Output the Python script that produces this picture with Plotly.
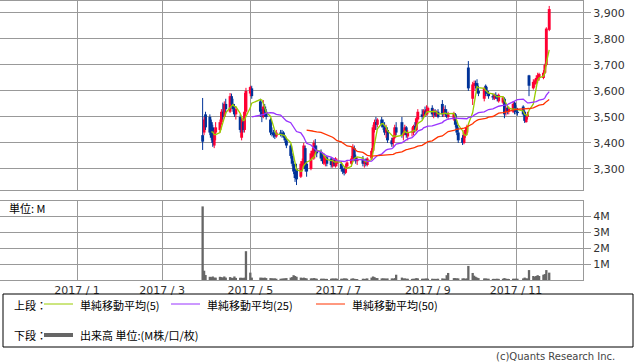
import plotly.graph_objects as go
import pandas as pd

# ---------------- data ----------------
mar = [29, 30, 31]
apr = [3, 4, 5, 6, 7, 10, 11, 12, 13, 14, 17, 18, 19, 20, 21, 24, 25, 26, 27, 28]
may = [1, 2, 8, 9, 10, 11, 12, 15, 16, 17, 18, 19, 22, 23, 24, 25, 26, 29, 30, 31]
jun = [1, 2, 5, 6, 7, 8, 9, 12, 13, 14, 15, 16, 19, 20, 21, 22, 23, 26, 27, 28, 29, 30]
jul = [3, 4, 5, 6, 7, 10, 11, 12, 13, 14, 18, 19, 20, 21, 24, 25, 26, 27, 28, 31]
aug = [1, 2, 3, 4, 7, 8, 9, 10, 14, 15, 16, 17, 18, 21, 22, 23, 24, 25, 28, 29, 30, 31]
sep = [1, 4, 5, 6, 7, 8, 11, 12, 13, 14, 15, 19, 20, 21, 22, 25, 26, 27, 28, 29]
octo = [2, 3, 4, 5, 6, 10, 11, 12, 13, 16, 17, 18, 19, 20, 23, 24, 25, 26, 27, 30, 31]
nov = [1, 2, 6, 7, 8, 9, 10, 13, 14, 15, 16, 17, 20, 21, 22, 24]

dates = ([f"2017-03-{d:02d}" for d in mar] + [f"2017-04-{d:02d}" for d in apr] +
         [f"2017-05-{d:02d}" for d in may] + [f"2017-06-{d:02d}" for d in jun] +
         [f"2017-07-{d:02d}" for d in jul] + [f"2017-08-{d:02d}" for d in aug] +
         [f"2017-09-{d:02d}" for d in sep] + [f"2017-10-{d:02d}" for d in octo] +
         [f"2017-11-{d:02d}" for d in nov])

opens = [
    3430, 3440, 3510,
    3500, 3480, 3460, 3390, 3440, 3450, 3480, 3520, 3500, 3550, 3520, 3580, 3550, 3530, 3510, 3500, 3420, 3480, 3450, 3520,
    3590, 3610, 3560, 3520, 3500, 3540, 3520, 3490, 3440, 3440, 3430, 3425, 3440, 3435, 3440, 3425, 3410, 3390, 3350, 3320,
    3290, 3300, 3270, 3310, 3310, 3380, 3320, 3300, 3350, 3340, 3390, 3370, 3365, 3350, 3320, 3330, 3345, 3340, 3310, 3335, 3310, 3320,
    3320, 3300, 3295, 3285, 3310, 3320, 3330, 3380, 3345, 3330, 3340, 3320, 3335, 3315, 3340, 3370, 3450, 3480, 3470, 3490,
    3470, 3460, 3440, 3450, 3410, 3400, 3420, 3460, 3480, 3430, 3440, 3460, 3425, 3440, 3440, 3465, 3450, 3490, 3510, 3500, 3520, 3510,
    3520, 3535, 3510, 3520, 3505, 3520, 3550, 3510, 3530, 3515, 3500, 3490, 3510, 3470, 3440, 3420, 3400, 3430, 3440, 3690,
    3570, 3620, 3630, 3630, 3600, 3570, 3620, 3600, 3590, 3580, 3570, 3585, 3575, 3560, 3555, 3570, 3520, 3535, 3520, 3520, 3555,
    3530, 3520, 3540, 3520, 3480, 3500, 3660, 3610, 3625, 3630, 3640, 3650, 3650, 3670, 3700, 3835,
]
highs = [
    3573, 3500, 3520,
    3510, 3490, 3470, 3450, 3480, 3490, 3530, 3555, 3560, 3570, 3592, 3590, 3570, 3550, 3540, 3510, 3500, 3490, 3592, 3612,
    3620, 3620, 3570, 3530, 3565, 3550, 3530, 3495, 3460, 3450, 3445, 3450, 3450, 3450, 3445, 3430, 3420, 3395, 3360, 3330,
    3300, 3320, 3330, 3340, 3400, 3390, 3330, 3370, 3380, 3410, 3415, 3390, 3375, 3360, 3360, 3350, 3350, 3345, 3340, 3340, 3345, 3340,
    3330, 3310, 3305, 3320, 3330, 3350, 3395, 3390, 3355, 3345, 3350, 3335, 3340, 3345, 3380, 3470, 3490, 3500, 3495, 3500,
    3490, 3480, 3470, 3460, 3420, 3430, 3470, 3480, 3500, 3450, 3470, 3465, 3450, 3460, 3470, 3480, 3500, 3530, 3530, 3530, 3540, 3545,
    3540, 3545, 3530, 3530, 3525, 3530, 3565, 3540, 3545, 3530, 3520, 3520, 3515, 3480, 3460, 3430, 3450, 3460, 3470, 3715,
    3635, 3640, 3640, 3645, 3620, 3615, 3625, 3615, 3600, 3590, 3590, 3595, 3585, 3590, 3580, 3575, 3540, 3545, 3540, 3560, 3560,
    3545, 3535, 3545, 3525, 3505, 3520, 3662, 3645, 3645, 3660, 3670, 3670, 3680, 3705, 3845, 3927,
]
lows = [
    3373, 3430, 3450,
    3430, 3410, 3385, 3380, 3410, 3440, 3470, 3490, 3495, 3510, 3515, 3540, 3520, 3500, 3490, 3440, 3410, 3440, 3440, 3510,
    3580, 3570, 3500, 3480, 3495, 3500, 3490, 3430, 3425, 3420, 3415, 3420, 3425, 3420, 3420, 3400, 3380, 3340, 3310, 3280,
    3250, 3238, 3265, 3300, 3305, 3290, 3270, 3295, 3340, 3335, 3360, 3345, 3330, 3320, 3315, 3310, 3310, 3305, 3305, 3310, 3305, 3310,
    3290, 3280, 3275, 3280, 3300, 3310, 3325, 3330, 3320, 3315, 3310, 3305, 3310, 3310, 3335, 3365, 3440, 3450, 3460, 3460,
    3450, 3430, 3420, 3400, 3385, 3385, 3415, 3430, 3420, 3410, 3430, 3420, 3410, 3425, 3430, 3440, 3445, 3480, 3490, 3495, 3500, 3505,
    3510, 3500, 3495, 3500, 3500, 3495, 3500, 3500, 3505, 3495, 3490, 3485, 3460, 3430, 3400, 3392, 3395, 3420, 3430, 3600,
    3546, 3600, 3610, 3590, 3580, 3560, 3580, 3580, 3570, 3565, 3565, 3570, 3560, 3555, 3550, 3495, 3505, 3510, 3510, 3515, 3510,
    3510, 3505, 3505, 3477, 3478, 3490, 3580, 3605, 3615, 3625, 3630, 3640, 3645, 3665, 3695, 3830,
]
closes = [
    3405, 3490, 3460,
    3440, 3420, 3400, 3440, 3460, 3480, 3520, 3500, 3550, 3530, 3580, 3550, 3530, 3510, 3530, 3450, 3490, 3450, 3520, 3600,
    3615, 3580, 3520, 3510, 3540, 3520, 3500, 3440, 3435, 3430, 3425, 3440, 3435, 3430, 3425, 3410, 3390, 3350, 3320, 3290,
    3265, 3260, 3320, 3330, 3390, 3300, 3290, 3360, 3370, 3400, 3370, 3360, 3340, 3330, 3350, 3345, 3320, 3315, 3335, 3320, 3340, 3330,
    3300, 3290, 3285, 3310, 3325, 3340, 3385, 3340, 3330, 3335, 3320, 3330, 3320, 3340, 3370, 3460, 3480, 3470, 3490, 3470,
    3460, 3440, 3455, 3410, 3395, 3420, 3460, 3440, 3430, 3440, 3460, 3430, 3440, 3445, 3465, 3450, 3495, 3520, 3500, 3525, 3510, 3530,
    3535, 3510, 3525, 3505, 3520, 3500, 3510, 3530, 3515, 3500, 3510, 3515, 3470, 3440, 3410, 3400, 3440, 3450, 3460, 3610,
    3625, 3630, 3620, 3600, 3590, 3610, 3590, 3590, 3580, 3575, 3585, 3575, 3570, 3585, 3575, 3510, 3530, 3520, 3535, 3550, 3520,
    3520, 3515, 3510, 3485, 3500, 3510, 3620, 3635, 3640, 3650, 3660, 3665, 3670, 3700, 3840, 3915,
]
volumes_m = [
    4.60, 0.58, 0.31,
    0.20, 0.18, 0.22, 0.15, 0.15, 0.20, 0.18, 0.15, 0.22, 0.15, 0.18, 0.14, 0.12, 0.22, 0.13, 0.14, 0.14, 0.12, 0.15, 1.80,
    0.46, 0.15, 0.15, 0.14, 0.13, 0.15, 0.12, 0.12, 0.10, 0.10, 0.10, 0.08, 0.08, 0.08, 0.10, 0.10, 0.12, 0.15, 0.18, 0.30,
    0.25, 0.20, 0.15, 0.12, 0.15, 0.12, 0.10, 0.10, 0.10, 0.12, 0.10, 0.08, 0.08, 0.08, 0.08, 0.07, 0.07, 0.08, 0.10, 0.08, 0.10, 0.08,
    0.08, 0.08, 0.10, 0.10, 0.08, 0.08, 0.10, 0.08, 0.06, 0.06, 0.08, 0.07, 0.08, 0.10, 0.15, 0.22, 0.18, 0.12, 0.12, 0.10,
    0.10, 0.10, 0.08, 0.10, 0.10, 0.08, 0.12, 0.33, 0.15, 0.10, 0.10, 0.08, 0.08, 0.07, 0.08, 0.08, 0.12, 0.10, 0.08, 0.08, 0.08, 0.10,
    0.08, 0.08, 0.07, 0.07, 0.07, 0.08, 0.10, 0.08, 0.08, 0.30, 0.44, 0.12, 0.12, 0.10, 0.10, 0.10, 0.10, 0.08, 0.10, 0.88,
    0.44, 0.27, 0.20, 0.15, 0.12, 0.10, 0.10, 0.08, 0.08, 0.07, 0.07, 0.07, 0.08, 0.07, 0.08, 0.12, 0.08, 0.07, 0.07, 0.08, 0.08,
    0.08, 0.08, 0.10, 0.15, 0.10, 0.10, 0.62, 0.25, 0.20, 0.25, 0.30, 0.25, 0.33, 0.37, 0.62, 0.46,
]

price_ticks = [3300, 3400, 3500, 3600, 3700, 3800, 3900]
vol_ticks = [1, 2, 3, 4]
vol_tick_labels = ["1M", "2M", "3M", "4M"]
ma_periods = [5, 25, 50]
legend_top_labels = ["単純移動平均(5)", "単純移動平均(25)", "単純移動平均(50)"]

# ---------------- styles ----------------
RED = "#ff0033"
BLUE = "#003399"
MA_COLORS = ["#99cc00", "#9933ff", "#ff3300"]
GRID = "#999999"
VOL = "#666666"
W, H = 638, 362
DAY_MS = 86400000

closes_s = pd.Series(closes, dtype=float)
mas = [closes_s.rolling(p).mean().round(2).tolist() for p in ma_periods]

fig = go.Figure()

# wicks
for want_up, col in ((True, RED), (False, BLUE)):
    wx, wy = [], []
    for d, o, h, l, c in zip(dates, opens, highs, lows, closes):
        if (c >= o) == want_up:
            wx += [d, d, None]
            wy += [l, h, None]
    fig.add_trace(go.Scatter(x=wx, y=wy, mode="lines", line=dict(color=col, width=1),
                             hoverinfo="skip", showlegend=False, xaxis="x", yaxis="y"))

# bodies
body_base = [min(o, c) for o, c in zip(opens, closes)]
body_h = [max(abs(c - o), 3) for o, c in zip(opens, closes)]
body_col = [RED if c >= o else BLUE for o, c in zip(opens, closes)]
fig.add_trace(go.Bar(x=dates, y=body_h, base=body_base, marker=dict(color=body_col, line=dict(width=0)),
                     width=DAY_MS * 2.0, showlegend=False, xaxis="x", yaxis="y"))

# moving averages
for ma, col in zip(mas, MA_COLORS):
    fig.add_trace(go.Scatter(x=dates, y=ma, mode="lines", line=dict(color=col, width=1.3),
                             showlegend=False, xaxis="x", yaxis="y"))

# volume
fig.add_trace(go.Bar(x=dates, y=volumes_m, marker=dict(color=VOL, line=dict(width=0)),
                     width=DAY_MS * 1.6, showlegend=False, xaxis="x2", yaxis="y2"))

tick_font = dict(family="DejaVu Sans", size=11, color="#333333")
plot_right = 583 / W
xr = ["2016-11-08 16:19", "2017-12-17 09:22"]
common_x = dict(type="date", range=xr, tick0="2017-01-01", dtick="M2", showgrid=True,
                gridcolor=GRID, gridwidth=1, showline=True, mirror=True, linecolor=GRID,
                linewidth=1, ticks="", zeroline=False, domain=[0, plot_right])

fig.update_layout(
    width=W, height=H, margin=dict(l=0, r=0, t=0, b=0),
    paper_bgcolor="white", plot_bgcolor="white", barmode="overlay", showlegend=False,
    hovermode=False,
    xaxis=dict(**common_x, anchor="y", showticklabels=False),
    xaxis2=dict(**common_x, anchor="y2", matches="x", showticklabels=True,
                tickformat="%Y / %-m", tickfont=tick_font),
    yaxis=dict(domain=[1 - 190 / H, 1 - 1 / H], range=[3219, 3946], side="right",
               tickvals=price_ticks, tickformat=",d", tickfont=tick_font,
               showgrid=True, gridcolor=GRID, showline=True, linecolor=GRID,
               ticks="outside", ticklen=7, tickcolor=GRID, zeroline=False, anchor="x"),
    yaxis2=dict(domain=[1 - 280 / H, 1 - 201 / H], range=[0, 4.9375], side="right",
                tickvals=vol_ticks, ticktext=vol_tick_labels, tickfont=tick_font,
                showgrid=True, gridcolor=GRID, showline=True, linecolor=GRID,
                ticks="outside", ticklen=7, tickcolor=GRID, zeroline=False, anchor="x2"),
)

def px(x):
    return x / W

def py(y):
    return 1 - y / H

jp = "Noto Sans CJK JP"
shapes = [
    dict(type="rect", xref="paper", yref="paper", x0=px(3), x1=px(633), y0=py(347), y1=py(294),
         line=dict(color="#000000", width=1), fillcolor="rgba(0,0,0,0)"),
]
annos = [
    dict(text="単位: M", x=px(7), y=py(208), xanchor="left", yanchor="middle",
         font=dict(family=jp, size=11, color="#000000")),
    dict(text="上段：", x=px(12), y=py(305), xanchor="left", yanchor="middle",
         font=dict(family=jp, size=11, color="#000000")),
    dict(text="下段：", x=px(12), y=py(335), xanchor="left", yanchor="middle",
         font=dict(family=jp, size=11, color="#000000")),
    dict(text="出来高 単位:(M株/口/枚)", x=px(78), y=py(335), xanchor="left", yanchor="middle",
         font=dict(family=jp, size=11, color="#000000")),
    dict(text="(c)Quants Research Inc.", x=px(617), y=py(356), xanchor="right", yanchor="middle",
         font=dict(family="DejaVu Sans", size=10, color="#444444")),
]
line_x = [(44, 73), (171, 200), (316, 345)]
text_x = [78, 205, 350]
for (x0, x1), tx, col, lab in zip(line_x, text_x, MA_COLORS, legend_top_labels):
    shapes.append(dict(type="line", xref="paper", yref="paper", x0=px(x0), x1=px(x1),
                       y0=py(304), y1=py(304), line=dict(color=col, width=1)))
    annos.append(dict(text=lab, x=px(tx), y=py(305), xanchor="left", yanchor="middle",
                      font=dict(family=jp, size=11, color="#000000")))
shapes.append(dict(type="line", xref="paper", yref="paper", x0=px(44), x1=px(73),
                   y0=py(335), y1=py(335), line=dict(color=VOL, width=4)))
for a in annos:
    a.update(xref="paper", yref="paper", showarrow=False)
fig.update_layout(shapes=shapes, annotations=annos)

fig.write_html("out.html", config={"displayModeBar": False, "staticPlot": True},
               post_script="document.body.style.margin='0px';document.body.style.overflow='hidden';")
